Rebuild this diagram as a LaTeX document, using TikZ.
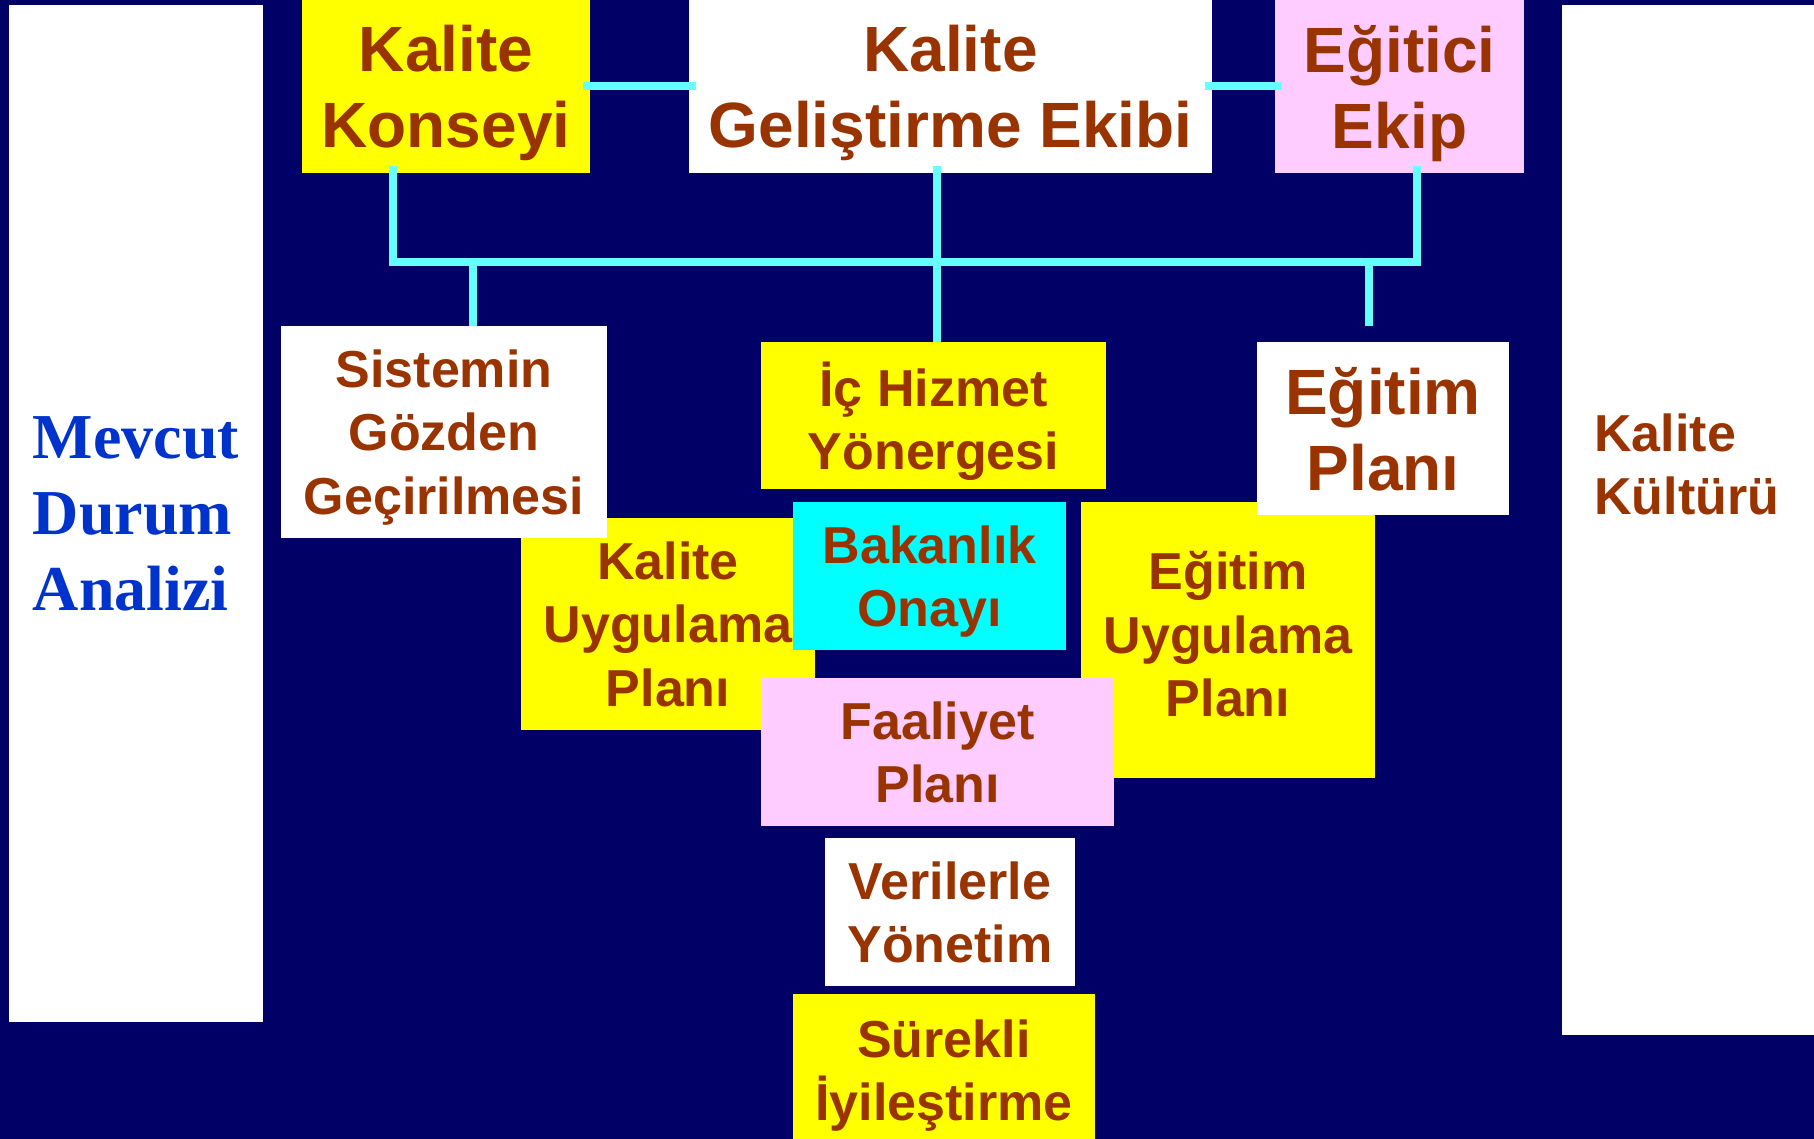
\documentclass[tikz,border=0pt]{standalone}
\usepackage{fontspec}
\setmainfont{Liberation Sans}
\newfontfamily\headserif{Liberation Serif}
\definecolor{bgnavy}{RGB}{0,0,102}
\definecolor{txtbrown}{RGB}{153,51,0}
\definecolor{hdblue}{RGB}{0,51,204}
\definecolor{boxyellow}{RGB}{255,255,0}
\definecolor{boxpink}{RGB}{255,204,255}
\definecolor{boxcyan}{RGB}{0,255,255}
\definecolor{linkcyan}{RGB}{102,255,255}

\begin{document}
\begin{tikzpicture}[x=0.5pt, y=-0.5pt,
  every node/.style={inner sep=0pt, align=center, text=txtbrown, text depth=0pt},
  bigtxt/.style={font=\fontsize{32}{38}\selectfont\bfseries},
  smalltxt/.style={font=\fontsize{26}{31.75}\selectfont\bfseries},
  ybox/.style={fill=boxyellow}, wbox/.style={fill=white},
  pbox/.style={fill=boxpink}, cbox/.style={fill=boxcyan},
  link/.style={draw=linkcyan, line width=4pt},
  reach/.style={shorten <=-3.5pt, shorten >=-3.5pt}]

\useasboundingbox (0,0) rectangle (1814,1139);
\fill[bgnavy] (0,0) rectangle (1814,1139);

% side columns
\node[wbox, minimum width=127pt, minimum height=508.5pt, align=left, text=hdblue,
  font=\fontsize{32}{38}\selectfont\headserif\bfseries] (mevcut) at (136,513.5)
  {Mevcut\\Durum\\Analizi};
\node[wbox, minimum width=128pt, minimum height=515pt] (kulturbox) at (1690,520) {};
\node[smalltxt, align=left, anchor=west] (kultur) at (1594,464) {Kalite\\Kültürü};

% top row
\node[ybox, bigtxt, minimum width=144pt, minimum height=86.5pt] (konsey) at (446,86.5)
  {Kalite\\Konseyi};
\node[wbox, bigtxt, minimum width=261.5pt, minimum height=86.5pt] (kge) at (950.5,86.5)
  {Kalite\\Geliştirme Ekibi};
\node[pbox, bigtxt, minimum width=124.5pt, minimum height=86.5pt] (egekip) at (1399.5,86.5)
  {Eğitici\\Ekip};

% middle blocks
\node[ybox, smalltxt, minimum width=147pt, minimum height=106pt] (kaluyg) at (668,624)
  {Kalite\\Uygulama\\Planı};
\node[ybox, smalltxt, minimum width=147pt, minimum height=138pt] (eguyg) at (1228,640)
  {};
\node[smalltxt] (eguygtxt) at (1228,634) {Eğitim\\Uygulama\\Planı};
\node[wbox, smalltxt, minimum width=163pt, minimum height=105.75pt] (sistem) at (444,431.75)
  {Sistemin\\Gözden\\Geçirilmesi};
\node[ybox, smalltxt, minimum width=172.5pt, minimum height=73.5pt] (ichiz) at (933.5,415.5)
  {İç Hizmet\\Yönergesi};
\node[wbox, bigtxt, minimum width=126pt, minimum height=86.5pt] (egplan) at (1383,428.5)
  {Eğitim\\Planı};
\node[cbox, smalltxt, minimum width=136.5pt, minimum height=74pt] (bakan) at (929.5,576)
  {Bakanlık\\Onayı};
\node[pbox, smalltxt, minimum width=176.5pt, minimum height=74pt] (faal) at (937.5,752)
  {Faaliyet\\Planı};
\node[wbox, smalltxt, minimum width=125pt, minimum height=74pt] (veri) at (950,912)
  {Verilerle\\Yönetim};
\node[ybox, smalltxt, minimum width=151pt, minimum height=76pt] (surek) at (944,1070)
  {Sürekli\\İyileştirme};

% connectors
\coordinate (busL) at (393,262);
\coordinate (busR) at (1417,262);
\coordinate (dropS) at (473,262);
\coordinate (dropK) at (937,262);
\coordinate (dropE) at (1369,262);
\coordinate (stubE) at (1369,326);

\draw[link, reach] (konsey.east) -- (kge.west);
\draw[link, reach] (kge.east) -- (egekip.west);
\draw[link, reach] (konsey.south -| busL) -- (busL) -- (busR) -- (egekip.south -| busR);
\draw[link, shorten <=-3.5pt] (kge.south -| dropK) -- (ichiz.north -| dropK);
\draw[link] (dropS) -- (sistem.north -| dropS);
\draw[link] (dropE) -- (stubE);
\end{tikzpicture}
\end{document}
